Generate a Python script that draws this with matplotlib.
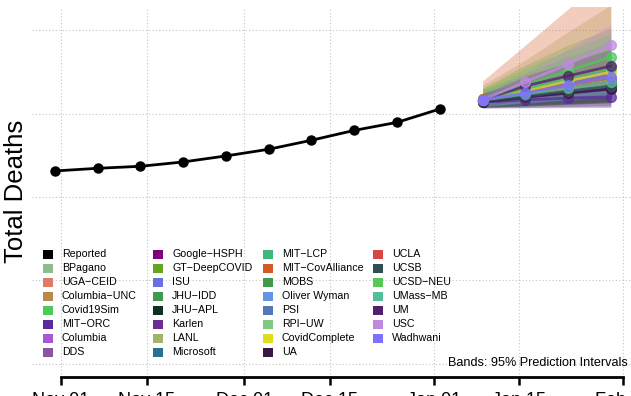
import matplotlib
matplotlib.use("Agg")
import matplotlib.pyplot as plt
import matplotlib.dates as mdates
from matplotlib.patches import Rectangle
import pandas as pd

plt.rcParams['font.family'] = ['Liberation Sans', 'DejaVu Sans']

# reported weekly cumulative deaths (Saturdays)
rep_dates = pd.date_range("2020-10-31", periods=10, freq="7D")
rep_deaths = [16560, 16720, 16840, 17100, 17460, 17860, 18400, 18990, 19470, 20270]

fc_dates = pd.date_range("2021-01-09", periods=4, freq="7D")

models = ["BPagano", "UGA\u2212CEID", "Columbia\u2212UNC", "Covid19Sim", "MIT\u2212ORC",
          "Columbia", "DDS", "Google\u2212HSPH", "GT\u2212DeepCOVID", "ISU",
          "JHU\u2212IDD", "JHU\u2212APL", "Karlen", "LANL", "Microsoft",
          "MIT\u2212LCP", "MIT\u2212CovAlliance", "MOBS", "Oliver Wyman", "PSI",
          "RPI\u2212UW", "CovidComplete", "UA", "UCLA", "UCSB",
          "UCSD\u2212NEU", "UMass\u2212MB", "UM", "USC", "Wadhwani"]

colors = ["#8fbc8f", "#e07b67", "#b8894a", "#4dc95a", "#5b2a9e",
          "#a956d6", "#8a55a0", "#7f007f", "#66a61e", "#6b70e0",
          "#3d9a4e", "#0b3320", "#6a2f90", "#a0b56a", "#2a7090",
          "#3cb878", "#d45a25", "#409a4a", "#6494e6", "#5577b8",
          "#80c880", "#dede1e", "#381840", "#d84545", "#2e5050",
          "#55c855", "#55bd9a", "#52206e", "#c08ae0", "#8070ff"]

median = [
    [20810, 21170, 21530, 21890], [20870, 21230, 21590, 21950], [20750, 21110, 21470, 21770],
    [20870, 21710, 22550, 23380], [20690, 20810, 20930, 20990], [20810, 21170, 21530, 21830],
    [20750, 21050, 21350, 21650], [20810, 21170, 21470, 21770], [20870, 21230, 21590, 21950],
    [20750, 20990, 21230, 21470], [20810, 21170, 21530, 21890], [20690, 20990, 21290, 21590],
    [20750, 20990, 21230, 21470], [20810, 21230, 21650, 22070], [20750, 21110, 21410, 21710],
    [20810, 21170, 21530, 21890], [20870, 21290, 21710, 22130], [20810, 21170, 21530, 21830],
    [20750, 21050, 21350, 21650], [20810, 21170, 21470, 21770], [20750, 21110, 21470, 21770],
    [20810, 21350, 21950, 22490], [20690, 20990, 21230, 21470], [20810, 21170, 21530, 21890],
    [20750, 21050, 21350, 21650], [20810, 21470, 22130, 22730], [20810, 21170, 21530, 21890],
    [20810, 21650, 22250, 22840], [20810, 21890, 22960, 24100], [20810, 21230, 21710, 22190],
]

lower = [
    [20450, 20600, 20750, 20900], [20500, 20650, 20800, 20950], [20400, 20500, 20600, 20700],
    [20500, 20900, 21300, 21700], [20330, 20340, 20350, 20360], [20500, 20700, 20900, 21050],
    [20400, 20550, 20650, 20750], [20450, 20650, 20800, 20950], [20500, 20700, 20900, 21100],
    [20450, 20550, 20650, 20750], [20400, 20550, 20700, 20850], [20380, 20450, 20550, 20650],
    [20450, 20600, 20700, 20800], [20380, 20500, 20650, 20800], [20420, 20600, 20750, 20900],
    [20400, 20550, 20700, 20850], [20400, 20500, 20600, 20700], [20420, 20600, 20750, 20900],
    [20450, 20650, 20850, 21000], [20380, 20450, 20550, 20650], [20420, 20600, 20800, 20950],
    [20500, 20800, 21100, 21400], [20340, 20380, 20420, 20460], [20480, 20700, 20900, 21100],
    [20400, 20500, 20600, 20700], [20420, 20700, 21000, 21300], [20450, 20650, 20850, 21050],
    [20450, 20800, 21100, 21400], [20500, 21100, 21700, 22300], [20420, 20600, 20800, 21000],
]

upper = [
    [21090, 21750, 22400, 23050], [21200, 21900, 22600, 23300], [21150, 21850, 22600, 23350],
    [21530, 22900, 24100, 25100], [21000, 21300, 21600, 21900], [21050, 21550, 22050, 22500],
    [21050, 21500, 21950, 22400], [21100, 21600, 22050, 22500], [21150, 21750, 22300, 22850],
    [21000, 21400, 21800, 22200], [21250, 21950, 22650, 23300], [21000, 21450, 21950, 22450],
    [20950, 21400, 21750, 22100], [21700, 23200, 24900, 26500], [21000, 21500, 21950, 22400],
    [21400, 22400, 23400, 24300], [21950, 24100, 26260, 28410], [21150, 21700, 22250, 22750],
    [20950, 21350, 21700, 22050], [21250, 21850, 22400, 22950], [21050, 21550, 22000, 22450],
    [21100, 21800, 22550, 23300], [21050, 21500, 21950, 22400], [21050, 21500, 21950, 22400],
    [21050, 21600, 22100, 22600], [21470, 22700, 23800, 24800], [21100, 21650, 22150, 22650],
    [21150, 22250, 23050, 23850], [21100, 22450, 23850, 25300], [21150, 21700, 22300, 22900],
]

tick_dates = pd.to_datetime(["2020-11-01", "2020-11-15", "2020-12-01", "2020-12-15",
                             "2021-01-01", "2021-01-15", "2021-02-01"])
tick_labels = ["Nov 01", "Nov 15", "Dec 01", "Dec 15", "Jan 01", "Jan 15", "Feb 01"]
grid_y = [5000, 10000, 15000, 20000, 25000]

W, H = 631, 396
fig = plt.figure(figsize=(W / 100, H / 100), dpi=100)
ax = fig.add_axes([32 / W, 19 / H, (W - 32) / W, 370 / H])

start = pd.Timestamp("2020-11-01")
ax.set_xlim(start - pd.Timedelta(days=4.75), start + pd.Timedelta(days=93.3))
ax.set_ylim(4220, 26380)

gridkw = dict(color="#c4c4c4", lw=0.8, ls=(0, (1, 2)), zorder=0)
for d in tick_dates:
    ax.axvline(d, **gridkw)
for g in grid_y:
    ax.axhline(g, **gridkw)

for i in range(len(models)):
    ax.fill_between(fc_dates, lower[i], upper[i], color=colors[i], alpha=0.3, lw=0, zorder=2)
    ax.plot(fc_dates, median[i], color=colors[i], lw=2, marker="o", ms=7,
            alpha=0.75, zorder=3)

ax.plot(rep_dates, rep_deaths, color="black", lw=2, marker="o", ms=6.5, zorder=4)

for s in ["left", "top", "right"]:
    ax.spines[s].set_visible(False)
ax.spines["bottom"].set_linewidth(2)
ax.spines["bottom"].set_bounds(mdates.date2num(tick_dates[0]), mdates.date2num(tick_dates[-1]))
ax.set_yticks([])
ax.set_xticks(tick_dates)
ax.set_xticklabels(tick_labels, fontsize=13)
ax.tick_params(axis="x", direction="out", length=6, width=1.8, pad=5)

fig.text(16 / W, 1 - 191.5 / H, "Total Deaths", rotation=90, fontsize=18.5,
         ha="center", va="center")

# legend
leg_names = ["Reported"] + models
leg_colors = ["black"] + colors
sw_x = [43, 153, 263, 373]
tx_x = [62, 172, 282, 392]
for i, (nm, c) in enumerate(zip(leg_names, leg_colors)):
    col, row = i // 8, i % 8
    yc = 254.3 + 14 * row
    fig.add_artist(Rectangle((sw_x[col] / W, 1 - (yc + 4.5) / H), 9.5 / W, 9 / H,
                             transform=fig.transFigure, color=c, lw=0))
    fig.text(tx_x[col] / W, 1 - yc / H, nm, fontsize=7.7, ha="left", va="center")

fig.text(628 / W, 1 - 363 / H, "Bands: 95% Prediction Intervals", fontsize=9.1,
         ha="right", va="center")

fig.savefig("out.png", dpi=100)
